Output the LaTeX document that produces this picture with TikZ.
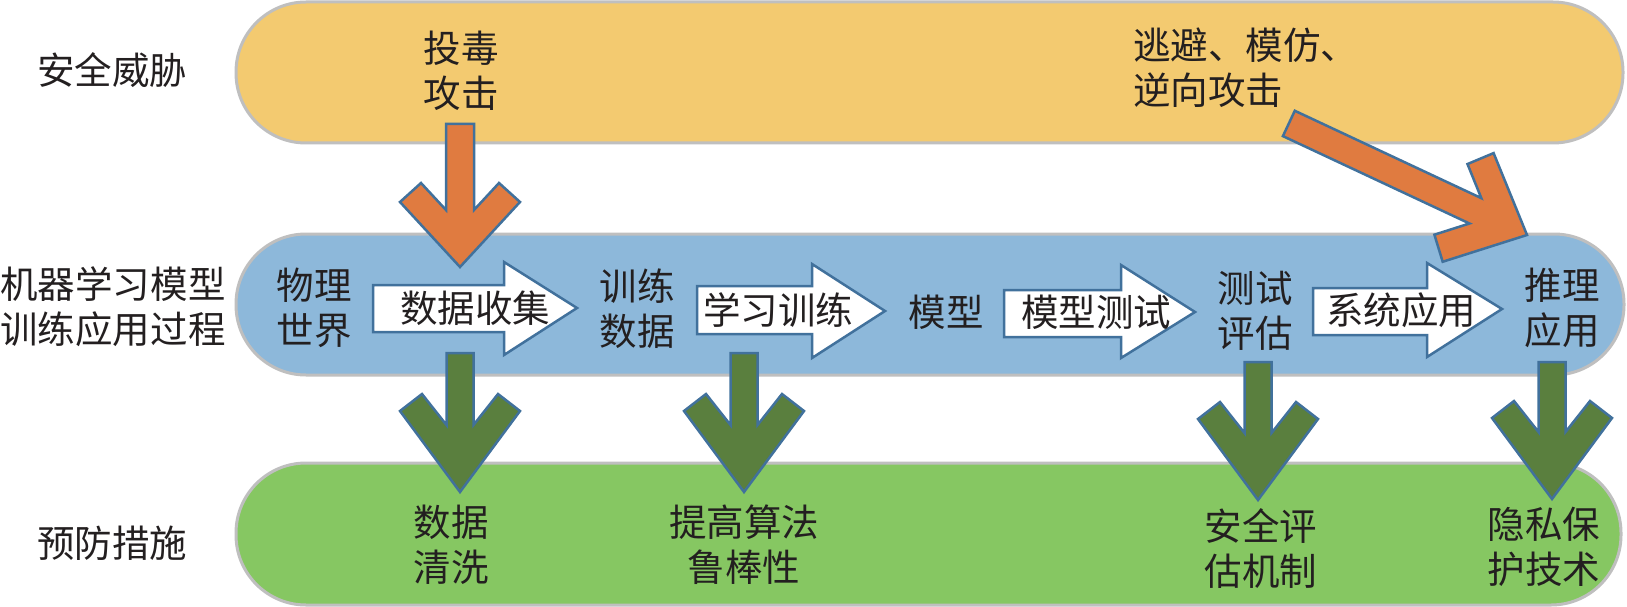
\documentclass[tikz,border=0pt]{standalone}
\usepackage{fontspec}
\newfontfamily\cjk{Noto Sans CJK SC}
\definecolor{bandY}{RGB}{243,202,112}
\definecolor{bandB}{RGB}{141,184,218}
\definecolor{bandG}{RGB}{134,199,98}
\definecolor{orangeA}{RGB}{224,123,64}
\definecolor{greenA}{RGB}{90,127,62}
\definecolor{edgeA}{RGB}{65,113,156}
\definecolor{bandEdge}{RGB}{191,191,191}
\definecolor{txt}{RGB}{35,31,32}
\begin{document}
\begin{tikzpicture}[x=1pt,y=-1pt,
  band/.style={draw=bandEdge, line width=3pt, rounded corners=70pt},
  lbl/.style={font=\cjk\fontsize{37.5}{45}\selectfont, text=txt, inner sep=0pt, align=center},
  blockarrow/.style={draw=edgeA, line width=2.5pt, fill=white, line join=miter},
  pics/orangearrow/.style={code={
    \draw[draw=edgeA, line width=2.5pt, fill=orangeA, line join=miter]
      (0,0) -- (-60,-65) -- (-39,-84) -- (-14,-57) -- (-14,-#1) -- (14,-#1)
      -- (14,-57) -- (39,-84) -- (60,-65) -- cycle;}},
  pics/greenarrow/.style={code={
    \draw[draw=edgeA, line width=2.5pt, fill=greenA, line join=miter]
      (0,0) -- (-60,-81) -- (-38,-98) -- (-13.5,-67) -- (-13.5,-#1) -- (13.5,-#1)
      -- (13.5,-67) -- (38,-98) -- (60,-81) -- cycle;}}
]
\useasboundingbox (0,0) rectangle (1627,607);
% bands
\draw[band, fill=bandY] (236,2) rectangle (1623,143);
\draw[band, fill=bandB] (236,234) rectangle (1624,375);
\draw[band, fill=bandG] (236,463) rectangle (1621,605);

% row labels
\node[lbl] (threat) at (112,70) {安全威胁};
\node[lbl] (process) at (113,307) {机器学习模型\\训练应用过程};
\node[lbl] (prevent) at (112,543) {预防措施};

% threats
\node[lbl] (poison) at (461,71) {投毒\\攻击};
\node[lbl, align=left, anchor=west] (evade) at (1133,68) {逃避、模仿、\\逆向攻击};

% process block arrows
\draw[blockarrow] (373,285) -- (504,285) -- (504,262) -- (577,308) -- (504,355) -- (504,332) -- (373,332) -- cycle;
\draw[blockarrow] (697,286) -- (812,286) -- (812,264) -- (885,311) -- (812,358) -- (812,334) -- (697,334) -- cycle;
\draw[blockarrow] (1004,290) -- (1121,290) -- (1121,265) -- (1195,312) -- (1121,358) -- (1121,337) -- (1004,337) -- cycle;
\draw[blockarrow] (1313,288) -- (1427,288) -- (1427,263) -- (1502,309) -- (1427,357) -- (1427,335) -- (1313,335) -- cycle;

% process stages
\node[lbl] (world) at (314,308) {物理\\世界};
\node[lbl] (tdata) at (637,309) {训练\\数据};
\node[lbl] (model) at (946,312) {模型};
\node[lbl] (test) at (1255,311) {测试\\评估};
\node[lbl] (infer) at (1562,308) {推理\\应用};
\node[lbl] (collect) at (475,308) {数据收集};
\node[lbl] (learn) at (778,310) {学习训练};
\node[lbl] (mtest) at (1096,312) {模型测试};
\node[lbl] (sysapp) at (1401,310) {系统应用};

% prevention
\node[lbl] (clean) at (451,545) {数据\\清洗};
\node[lbl] (robust) at (744,545) {提高算法\\鲁棒性};
\node[lbl] (seceval) at (1261,549) {安全评\\估机制};
\node[lbl] (privacy) at (1544,547) {隐私保\\护技术};

% attack arrows
\pic at (460,267) {orangearrow=143};
\pic[rotate=64.9] at (1527,235) {orangearrow=263};

% defence arrows
\pic at (460,492) {greenarrow=139};
\pic at (744,492) {greenarrow=139};
\pic at (1258,500) {greenarrow=138};
\pic at (1552,499) {greenarrow=137};
\end{tikzpicture}
\end{document}
